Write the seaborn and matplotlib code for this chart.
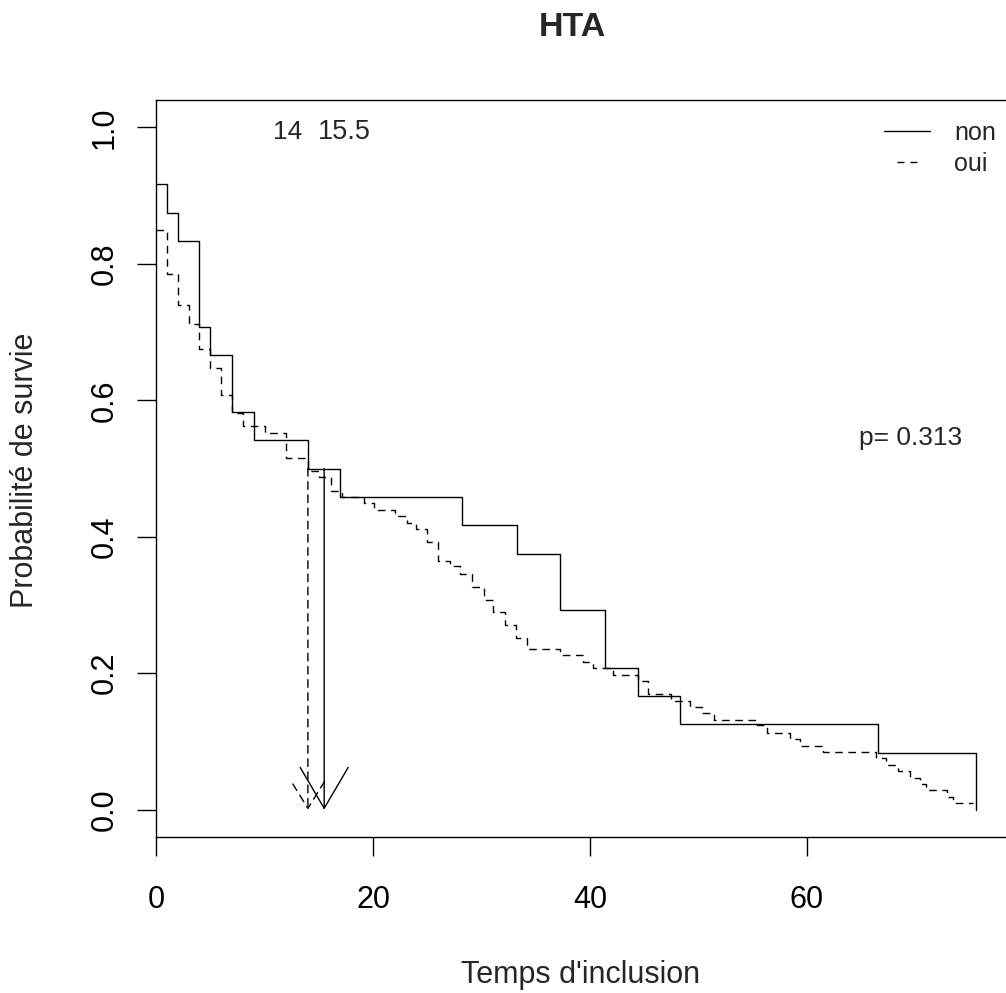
import numpy as np
import pandas as pd
import matplotlib
matplotlib.use("Agg")
import matplotlib.pyplot as plt
from matplotlib.lines import Line2D
import seaborn as sns

# ---------------- data ----------------
groups = ["non", "oui"]

times_non = [0, 1, 2, 4, 5, 7, 9, 14, 17, 28.2, 33.3, 37.2, 41.4, 44.4, 48.3, 66.5, 75.6]
surv_non = [0.917, 0.875, 0.833, 0.708, 0.667, 0.583, 0.542, 0.500, 0.458, 0.417,
            0.375, 0.292, 0.208, 0.167, 0.125, 0.083, 0.0]

times_oui = [0, 1, 2, 3, 4, 5, 6, 7, 8, 10, 12, 14, 15, 16.1, 17.1, 19.2, 20.1, 22,
             23.1, 24, 25, 26, 27.1, 28, 29.1, 30.2, 31.1, 32.2, 33.2, 34.2, 37.2,
             39.4, 40.3, 42.1, 44.4, 45.3, 47.5, 49.2, 50.3, 51.4, 55.4, 56.3, 58.4,
             59.4, 61.5, 66.4, 67.3, 68.4, 69.5, 70.4, 71.0, 72.9, 73.5, 75.3]
surv_oui = [0.850, 0.785, 0.740, 0.712, 0.675, 0.647, 0.608, 0.581, 0.562, 0.552,
            0.515, 0.496, 0.487, 0.467, 0.458, 0.450, 0.439, 0.430, 0.420, 0.411,
            0.392, 0.364, 0.357, 0.346, 0.327, 0.307, 0.289, 0.271, 0.252, 0.235,
            0.226, 0.217, 0.207, 0.198, 0.188, 0.169, 0.160, 0.151, 0.142, 0.132,
            0.124, 0.113, 0.104, 0.094, 0.085, 0.076, 0.066, 0.057, 0.047, 0.038,
            0.029, 0.019, 0.010, 0.010]

medians = {"non": 15.5, "oui": 14}
median_labels = {"non": "15.5", "oui": "14"}
median_level = 0.5
p_text = "p= 0.313"
p_pos = (69.5, 0.545)

title = "HTA"
xlabel = "Temps d'inclusion"
ylabel = "Probabilité de survie"
xticks = [0, 20, 40, 60]
yticks = [0.0, 0.2, 0.4, 0.6, 0.8, 1.0]
ytick_labels = ["0.0", "0.2", "0.4", "0.6", "0.8", "1.0"]

# ---------------- style ----------------
sns.set_theme(style="white")
plt.rcParams["font.family"] = ["Liberation Sans", "DejaVu Sans"]

W, H = 1006, 993
fig = plt.figure(figsize=(W / 100, H / 100), dpi=100)
fig.patch.set_facecolor("white")

ax_left, ax_right, ax_top, ax_bottom = 156, 1006, 100, 837
ax = fig.add_axes([ax_left / W, 1 - ax_bottom / H,
                   (ax_right - ax_left) / W, (ax_bottom - ax_top) / H])
ax.set_facecolor("white")

dash_oui = (5.5, 4)
df = pd.concat([
    pd.DataFrame({"t": times_non, "S": surv_non, "g": "non"}),
    pd.DataFrame({"t": times_oui, "S": surv_oui, "g": "oui"}),
], ignore_index=True)

sns.lineplot(data=df, x="t", y="S", hue="g", style="g",
             palette={"non": "black", "oui": "black"},
             dashes={"non": "", "oui": dash_oui},
             estimator=None, sort=False, drawstyle="steps-post",
             lw=1.0, ax=ax, legend=False)

# median arrows
head_style = {"non": "->,head_length=2.95,head_width=1.73",
              "oui": "->,head_length=1.94,head_width=1.2"}
for g in groups:
    m = medians[g]
    ax.annotate("", xy=(m, 0), xytext=(m, median_level),
                arrowprops=dict(arrowstyle=head_style[g],
                                lw=1.0, color="black",
                                linestyle="-" if g == "non" else (0, dash_oui),
                                shrinkA=0, shrinkB=0, mutation_scale=10))

# median labels at top
ax.annotate(median_labels["oui"], xy=(medians["oui"], 1.0), xytext=(-6, -5),
            textcoords="offset pixels", ha="right", va="center", fontsize=19)
ax.annotate(median_labels["non"], xy=(medians["non"], 1.0), xytext=(-6, -5),
            textcoords="offset pixels", ha="left", va="center", fontsize=19.5)

# p-value
ax.text(p_pos[0], p_pos[1], p_text, ha="center", va="center", fontsize=19)

# axes limits / ticks
ax.set_xlim(0, 78.34)
ax.set_ylim(-0.04, 1.04)
ax.set_xticks(xticks)
ax.set_xticklabels([str(v) for v in xticks])
ax.set_yticks(yticks)
ax.set_yticklabels(ytick_labels)
ax.tick_params(axis="both", which="major", direction="out", bottom=True, left=True,
               length=13.5, width=1.0, color="black", labelsize=22, labelcolor="black")
ax.tick_params(axis="x", pad=21)
ax.tick_params(axis="y", pad=12.5)
plt.setp(ax.get_yticklabels(), rotation=90, va="center")

for side in ["left", "top", "bottom"]:
    ax.spines[side].set_visible(True)
    ax.spines[side].set_color("black")
    ax.spines[side].set_linewidth(1.0)
ax.spines["right"].set_visible(False)
ax.grid(False)

ax.set_xlabel("")
ax.set_ylabel("")
fig.text(581 / W, 1 - 983 / H, xlabel, ha="center", va="baseline", fontsize=22)
fig.text(25 / W, 1 - 470 / H, ylabel, ha="center", va="center", rotation=90, fontsize=22)
fig.text(572 / W, 1 - 27 / H, title, ha="center", va="center", fontsize=24.5,
         fontweight="bold")

# legend
handles = [Line2D([0], [0], color="black", lw=1.0, linestyle="-"),
           Line2D([0], [0], color="black", lw=1.0,
                  linestyle=(23.7, (5, 4.3, 5, 18.8)))]
leg = fig.legend(handles, groups, loc="upper left",
                 bbox_to_anchor=(884 / W, 1 - 121 / H), frameon=False,
                 fontsize=18, handlelength=1.84, handletextpad=0.96,
                 labelspacing=0.28, borderpad=0, borderaxespad=0)

fig.savefig("out.png", dpi=100, facecolor="white")
